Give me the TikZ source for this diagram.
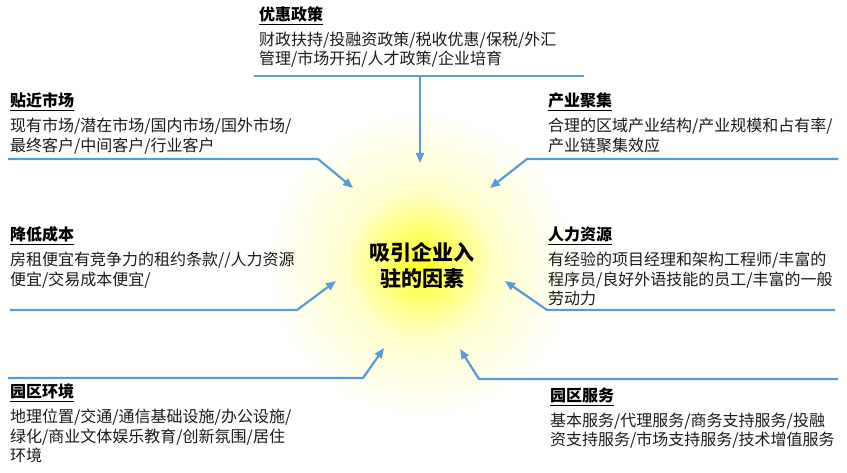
\documentclass[tikz,border=0pt]{standalone}
\usepackage{fontspec}
\setmainfont{Noto Sans CJK SC}
\usetikzlibrary{arrows.meta,positioning}
\definecolor{linkblue}{HTML}{5B9BD5}
\definecolor{textgray}{HTML}{1A1A1A}
\pgfdeclareradialshading{glow}{\pgfpoint{0bp}{0bp}}{color(0bp)=(yellow!85!white); color(5bp)=(yellow!60!white); color(12bp)=(yellow!20!white); color(25bp)=(white); color(50bp)=(white)}

\begin{document}
\begin{tikzpicture}[x=1pt, y=-1pt,
  title/.style={anchor=base west, inner sep=0pt, font=\fontsize{16}{20}\selectfont\bfseries},
  body/.style={below right=7pt and 0pt of #1.south west, inner sep=0pt, align=left, font=\fontsize{16}{19.5}\selectfont, text=textgray},
  link/.style={draw=linkblue, line width=2.2pt, -{Triangle[length=10pt,width=8pt]}}
]
\useasboundingbox (0,0) rectangle (847,473);

% glow behind the centre
\shade[shading=glow] (421,264) circle (155);
\node[font=\fontsize{21}{26}\selectfont\bfseries, align=center, inner sep=0pt] (core) at (422,265) {吸引企业入\\驻的因素};

% titles
\node[title] (policy) at (259,21) {\underline{优惠政策}};
\node[title] (market) at (10,107) {\underline{贴近市场}};
\node[title] (cluster) at (548,107) {\underline{产业聚集}};
\node[title] (cost) at (10,241) {\underline{降低成本}};
\node[title] (talent) at (548,241) {\underline{人力资源}};
\node[title] (env) at (10,398) {\underline{园区环境}};
\node[title] (service) at (550,402) {\underline{园区服务}};

% texts
\node[body=policy] (policy-t) {财政扶持/投融资政策/税收优惠/保税/外汇\\管理/市场开拓/人才政策/企业培育};
\node[body=market] (market-t) {现有市场/潜在市场/国内市场/国外市场/\\最终客户/中间客户/行业客户};
\node[body=cluster] (cluster-t) {合理的区域产业结构/产业规模和占有率/\\产业链聚集效应};
\node[body=cost] (cost-t) {房租便宜有竞争力的租约条款//人力资源\\便宜/交易成本便宜/};
\node[body=talent] (talent-t) {有经验的项目经理和架构工程师/丰富的\\程序员/良好外语技能的员工/丰富的一般\\劳动力};
\node[body=env] (env-t) {地理位置/交通/通信基础设施/办公设施/\\绿化/商业文体娱乐教育/创新氛围/居住\\环境};
\node[body=service] (service-t) {基本服务/代理服务/商务支持服务/投融\\资支持服务/市场支持服务/技术增值服务};

% line ends and bends
\coordinate (policy-a) at (254,76);
\coordinate (policy-b) at (584,76);
\coordinate (policy-m) at (420,76);
\coordinate (policy-e) at (420,163);
\coordinate (market-a) at (8,159);
\coordinate (market-b) at (318,159);
\coordinate (market-e) at (353,188);
\coordinate (cluster-a) at (838,159);
\coordinate (cluster-b) at (527,159);
\coordinate (cluster-e) at (490,188);
\coordinate (cost-a) at (10,310);
\coordinate (cost-b) at (297,310);
\coordinate (cost-e) at (336,281);
\coordinate (talent-a) at (835,310);
\coordinate (talent-b) at (547,310);
\coordinate (talent-e) at (505,281);
\coordinate (env-a) at (8,378);
\coordinate (env-b) at (363,378);
\coordinate (env-e) at (384,348);
\coordinate (service-a) at (838,379);
\coordinate (service-b) at (479,379);
\coordinate (service-e) at (460,349);

% connectors
\draw[draw=linkblue, line width=2.2pt] (policy-a) -- (policy-b);
\draw[link] (policy-m) -- (policy-e);
\draw[link] (market-a) -- (market-b) -- (market-e);
\draw[link] (cluster-a) -- (cluster-b) -- (cluster-e);
\draw[link] (cost-a) -- (cost-b) -- (cost-e);
\draw[link] (talent-a) -- (talent-b) -- (talent-e);
\draw[link] (env-a) -- (env-b) -- (env-e);
\draw[link] (service-a) -- (service-b) -- (service-e);
\end{tikzpicture}
\end{document}
